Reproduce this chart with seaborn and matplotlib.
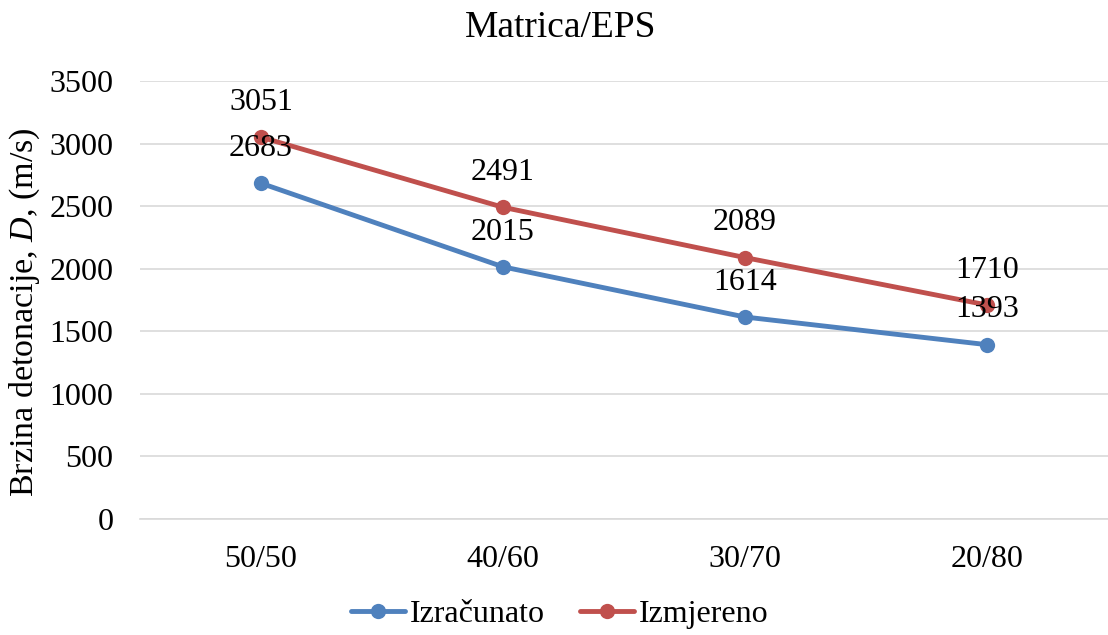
import matplotlib
matplotlib.use("Agg")
import matplotlib.pyplot as plt
import seaborn as sns
import pandas as pd
from matplotlib.lines import Line2D

categories = ["50/50", "40/60", "30/70", "20/80"]
izracunato = [2683, 2015, 1614, 1393]
izmjereno = [3051, 2491, 2089, 1710]
series_names = ["Izračunato", "Izmjereno"]
colors = ["#4F81BD", "#C0504D"]

sns.set_style("white")
plt.rcParams["font.family"] = ["Liberation Serif", "DejaVu Serif"]
plt.rcParams["mathtext.fontset"] = "custom"
plt.rcParams["mathtext.it"] = "Liberation Serif:italic"
plt.rcParams["mathtext.rm"] = "Liberation Serif"
plt.rcParams["text.color"] = "black"
plt.rcParams["axes.labelcolor"] = "black"
plt.rcParams["xtick.color"] = "black"
plt.rcParams["ytick.color"] = "black"

rows = []
for name, vals in zip(series_names, [izracunato, izmjereno]):
    for i, (c, v) in enumerate(zip(categories, vals)):
        rows.append({"pos": i, "cat": c, "val": v, "series": name})
df = pd.DataFrame(rows)

FS = 23

fig = plt.figure(figsize=(11.08, 6.35), dpi=100)
ax = fig.add_axes([140 / 1108, 1 - 519 / 635, 968 / 1108, (519 - 81) / 635])

sns.lineplot(data=df, x="pos", y="val", hue="series", palette=colors,
             marker="o", markersize=11, linewidth=3.5, markeredgewidth=0,
             ax=ax, legend=False)

for name, vals in zip(series_names, [izracunato, izmjereno]):
    for i, v in enumerate(vals):
        ax.annotate(f"{v}", (i, v), xytext=(0, 25), textcoords="offset points",
                    ha="center", va="center", fontsize=FS, color="black")

ax.set_xlim(-0.5, 3.5)
ax.set_ylim(0, 3500)
ax.set_yticks(range(0, 3501, 500))
ax.set_xticks(range(len(categories)))
ax.set_xticklabels(categories)
ax.tick_params(axis="both", labelsize=FS, length=0, labelcolor="black")
ax.tick_params(axis="y", pad=19)
ax.tick_params(axis="x", pad=19)
ax.yaxis.grid(True, color="#D9D9D9", linewidth=1.2)
ax.set_axisbelow(True)
for s in ["top", "right", "left"]:
    ax.spines[s].set_visible(False)
ax.spines["bottom"].set_color("#D9D9D9")
ax.spines["bottom"].set_linewidth(1.2)
ax.set_xlabel("")
ax.set_ylabel("Brzina detonacije, $D$, (m/s)", fontsize=24.5, color="black")
ax.yaxis.set_label_coords((42 - 140) / 968, (519 - 312) / 438)

fig.text(0.506, 1 - 28 / 635, "Matrica/EPS", ha="center", va="center", fontsize=27)

handles = [Line2D([], [], color=c, linewidth=3.5, marker="o", markersize=11,
                  markeredgewidth=0) for c in colors]
fig.legend(handles, series_names, loc="center", bbox_to_anchor=(0.505, 1 - 614 / 635),
           ncol=2, frameon=False, fontsize=FS, handlelength=1.7, columnspacing=1.1,
           handletextpad=0.15)

fig.savefig("out.png", dpi=100)
